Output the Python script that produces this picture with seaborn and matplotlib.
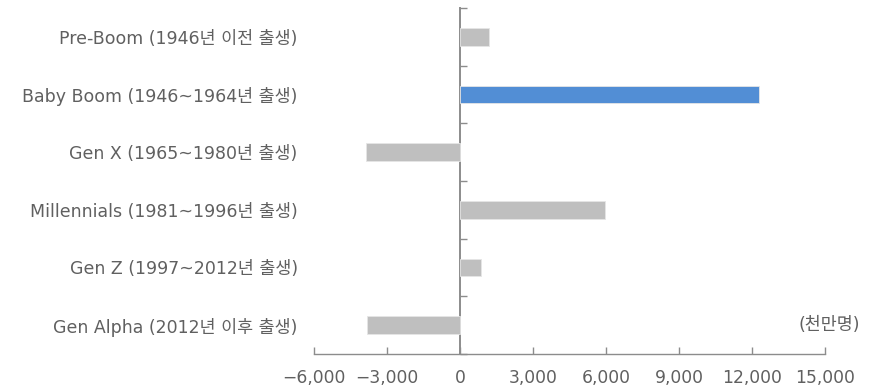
import matplotlib
matplotlib.use("Agg")
import matplotlib.pyplot as plt
from matplotlib.ticker import FuncFormatter
import seaborn as sns
import pandas as pd

# Net change by generation (unit: 천만명)
generations = [
    "Pre-Boom (1946년 이전 출생)",
    "Baby Boom (1946~1964년 출생)",
    "Gen X (1965~1980년 출생)",
    "Millennials (1981~1996년 출생)",
    "Gen Z (1997~2012년 출생)",
    "Gen Alpha (2012년 이후 출생)",
]
values = [1170, 12290, -3870, 5950, 870, -3850]
highlight = "Baby Boom (1946~1964년 출생)"
x_ticks = [-6000, -3000, 0, 3000, 6000, 9000, 12000, 15000]
unit_label = "(천만명)"

GRAY = "#BFBFBF"
BLUE = "#528ED5"
TEXT = "#606060"
AXIS = "#8C8C8C"

sns.set_theme(style="white")
plt.rcParams["font.family"] = ["DejaVu Sans", "Noto Sans CJK KR"]
plt.rcParams["axes.unicode_minus"] = True

df = pd.DataFrame({"generation": generations, "value": values})
palette = {g: (BLUE if g == highlight else GRAY) for g in generations}

fig = plt.figure(figsize=(8.71, 3.92), dpi=100)
ax = fig.add_axes([314.3 / 871, 38 / 392, (825.3 - 314.3) / 871, (354 - 8) / 392])

sns.barplot(data=df, x="value", y="generation", hue="generation",
            palette=palette, saturation=1, legend=False, orient="h", width=0.31,
            order=generations, hue_order=generations,
            edgecolor="#E6E6E6", linewidth=0.6, ax=ax)

ax.set_xlim(x_ticks[0], x_ticks[-1])
ax.set_ylim(len(generations) - 0.5, -0.5)
ax.set_xlabel("")
ax.set_ylabel("")

# x axis: gray baseline with short inward ticks
ax.set_xticks(x_ticks)
ax.xaxis.set_major_formatter(FuncFormatter(lambda v, p: f"{int(v):,}".replace("-", "\u2212")))
ax.tick_params(axis="x", direction="in", length=5, width=1, color=AXIS,
               labelsize=12.3, labelcolor=TEXT, pad=11, bottom=True)
for side in ("top", "right", "left"):
    ax.spines[side].set_visible(False)
ax.spines["bottom"].set_color(AXIS)
ax.spines["bottom"].set_linewidth(1)

# category labels on the left
ax.tick_params(axis="y", length=0, pad=12, labelsize=12.5, labelcolor=TEXT, left=False)

# zero line with category-boundary ticks
x0, x1 = ax.get_xlim()
zero_axis = ax.secondary_yaxis((0 - x0) / (x1 - x0))
zero_axis.set_yticks([i + 0.5 for i in range(-1, len(generations))])
zero_axis.set_yticklabels([])
zero_axis.tick_params(axis="y", direction="in", length=5, width=1, color=AXIS, left=True)
zero_axis.spines["left"].set_color(AXIS)
zero_axis.spines["left"].set_linewidth(1.4)
for side in ("top", "right", "bottom"):
    zero_axis.spines[side].set_visible(False)

ax.text(1.068, 5.0, unit_label, transform=ax.get_yaxis_transform(),
        ha="right", va="center", fontsize=12.5, color=TEXT)

fig.savefig("out.png", dpi=100)
